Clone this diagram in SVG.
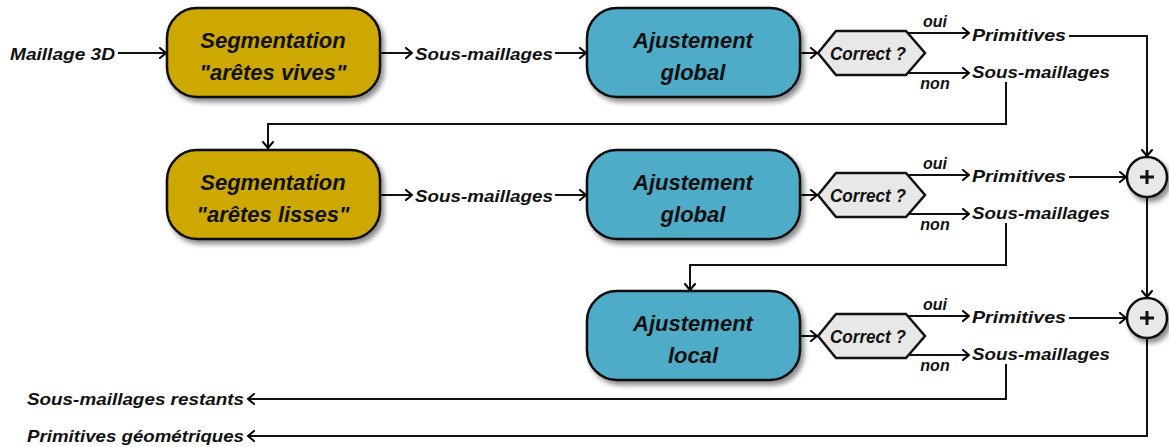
<svg xmlns="http://www.w3.org/2000/svg" width="1169" height="447" viewBox="0 0 1169 447">
<defs>
<filter id="sh" x="-20%" y="-20%" width="140%" height="150%"><feDropShadow dx="3" dy="4" stdDeviation="2.5" flood-color="#000" flood-opacity="0.45"/></filter>
<marker id="ar" markerWidth="10" markerHeight="12" refX="8" refY="6" orient="auto" markerUnits="userSpaceOnUse"><path d="M2,1 L8,6 L2,11" fill="none" stroke="#000" stroke-width="2" stroke-linecap="round" stroke-linejoin="round"/></marker>
</defs>
<style>
.t{font-family:"Liberation Sans",Arial,sans-serif;font-weight:bold;font-style:italic;fill:#111}
.b{font-size:22px;text-anchor:middle}
.l{font-size:17px}
.s{font-size:16px;text-anchor:middle}
.q{font-size:18px}
.y{fill:#CCA800;stroke:#111;stroke-width:2.5}
.bl{fill:#4FACC8;stroke:#111;stroke-width:2.5}
.g{fill:#E8E8E8;stroke:#111;stroke-width:2.5}
.c{fill:none;stroke:#111;stroke-width:2;marker-end:url(#ar)}
</style>
<rect width="1169" height="447" fill="#fff"/>
<g id="connectors">
<line class="c" x1="118" y1="53" x2="166" y2="53"/>
<line class="c" x1="381" y1="53" x2="412" y2="53"/>
<line class="c" x1="555" y1="53" x2="586" y2="53"/>
<line class="c" x1="801" y1="53" x2="817" y2="53"/>
<line class="c" x1="907" y1="33" x2="969" y2="33"/>
<line class="c" x1="907" y1="73" x2="969" y2="73"/>
<polyline class="c" points="1069,36 1147,36 1147,156"/>
<polyline class="c" points="1006,82 1006,124 268,124 268,148"/>
<line class="c" x1="381" y1="195" x2="412" y2="195"/>
<line class="c" x1="555" y1="195" x2="586" y2="195"/>
<line class="c" x1="801" y1="195" x2="817" y2="195"/>
<line class="c" x1="907" y1="175" x2="969" y2="175"/>
<line class="c" x1="907" y1="214" x2="969" y2="214"/>
<line class="c" x1="1069" y1="177" x2="1126" y2="177"/>
<line class="c" x1="1147" y1="198" x2="1147" y2="297"/>
<polyline class="c" points="1006,223 1006,265 690,265 690,290"/>
<line class="c" x1="801" y1="336" x2="817" y2="336"/>
<line class="c" x1="907" y1="316" x2="969" y2="316"/>
<line class="c" x1="907" y1="355" x2="969" y2="355"/>
<line class="c" x1="1069" y1="318" x2="1126" y2="318"/>
<polyline class="c" points="1006,364 1006,399 248,399"/>
<polyline class="c" points="1147,339 1147,436 248,436"/>
</g>
<g id="in"><text class="t l" x="10" y="60" textLength="105" lengthAdjust="spacingAndGlyphs">Maillage 3D</text></g>
<g id="seg1"><rect class="y" filter="url(#sh)" x="167" y="8" width="213" height="89" rx="30"/>
<text class="t b" x="273" y="48">Segmentation</text><text class="t b" x="273" y="80">"arêtes vives"</text></g>
<g id="sm1"><text class="t l" x="415" y="60" textLength="138" lengthAdjust="spacingAndGlyphs">Sous-maillages</text></g>
<g id="aj1"><rect class="bl" filter="url(#sh)" x="587" y="8" width="213" height="89" rx="30"/>
<text class="t b" x="693" y="48">Ajustement</text><text class="t b" x="693" y="80">global</text></g>
<g id="q1"><polygon class="g" points="818,53 836,31 906,31 925,53 906,75 836,75"/>
<text class="t q" x="830" y="60" textLength="76" lengthAdjust="spacingAndGlyphs">Correct ?</text><text class="t s" x="935" y="27">oui</text><text class="t s" x="935" y="89">non</text>
<text class="t l" x="972" y="41" textLength="94" lengthAdjust="spacingAndGlyphs">Primitives</text>
<text class="t l" x="972" y="78" textLength="138" lengthAdjust="spacingAndGlyphs">Sous-maillages</text></g>
<g id="seg2"><rect class="y" filter="url(#sh)" x="167" y="150" width="213" height="89" rx="30"/>
<text class="t b" x="273" y="190">Segmentation</text><text class="t b" x="273" y="222">"arêtes lisses"</text></g>
<g id="sm2"><text class="t l" x="415" y="202" textLength="138" lengthAdjust="spacingAndGlyphs">Sous-maillages</text></g>
<g id="aj2"><rect class="bl" filter="url(#sh)" x="587" y="150" width="213" height="89" rx="30"/>
<text class="t b" x="693" y="190">Ajustement</text><text class="t b" x="693" y="222">global</text></g>
<g id="q2"><polygon class="g" points="818,195 836,173 906,173 925,195 906,217 836,217"/>
<text class="t q" x="830" y="202" textLength="76" lengthAdjust="spacingAndGlyphs">Correct ?</text><text class="t s" x="935" y="169">oui</text><text class="t s" x="935" y="230">non</text>
<text class="t l" x="972" y="182" textLength="94" lengthAdjust="spacingAndGlyphs">Primitives</text>
<text class="t l" x="972" y="219" textLength="138" lengthAdjust="spacingAndGlyphs">Sous-maillages</text></g>
<g id="aj3"><rect class="bl" filter="url(#sh)" x="587" y="291" width="213" height="89" rx="30"/>
<text class="t b" x="693" y="331">Ajustement</text><text class="t b" x="693" y="363">local</text></g>
<g id="q3"><polygon class="g" points="818,336 836,314 906,314 925,336 906,358 836,358"/>
<text class="t q" x="830" y="343" textLength="76" lengthAdjust="spacingAndGlyphs">Correct ?</text><text class="t s" x="935" y="310">oui</text><text class="t s" x="935" y="371">non</text>
<text class="t l" x="972" y="323" textLength="94" lengthAdjust="spacingAndGlyphs">Primitives</text>
<text class="t l" x="972" y="360" textLength="138" lengthAdjust="spacingAndGlyphs">Sous-maillages</text></g>
<g id="plus1"><circle class="g" filter="url(#sh)" cx="1147" cy="177" r="20"/><path d="M1140,177 H1154 M1147,170 V184" stroke="#111" stroke-width="3"/></g>
<g id="plus2"><circle class="g" filter="url(#sh)" cx="1147" cy="318" r="20"/><path d="M1140,318 H1154 M1147,311 V325" stroke="#111" stroke-width="3"/></g>
<g id="out1"><text class="t l" x="27" y="405" textLength="217" lengthAdjust="spacingAndGlyphs">Sous-maillages restants</text></g>
<g id="out2"><text class="t l" x="27" y="442" textLength="217" lengthAdjust="spacingAndGlyphs">Primitives géométriques</text></g>
</svg>
